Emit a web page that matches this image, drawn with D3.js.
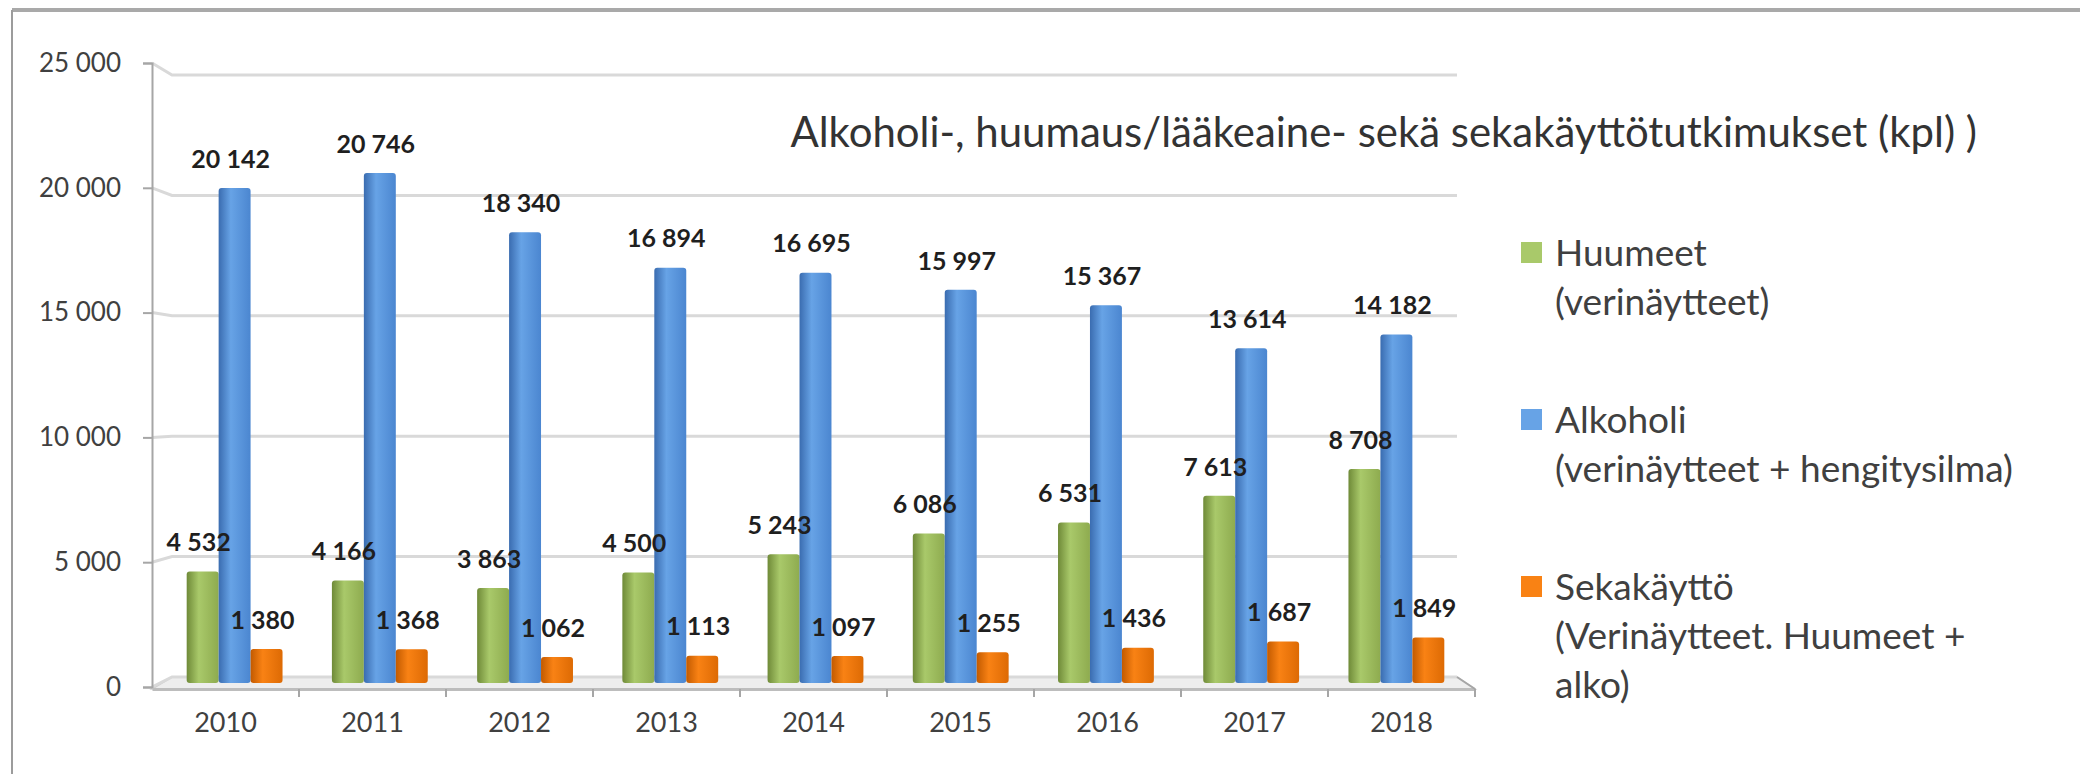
<!DOCTYPE html>
<html>
<head>
<meta charset="utf-8">
<script src="https://cdn.jsdelivr.net/npm/d3@7"></script>
<style>
    html, body { margin: 0; padding: 0; background: #fff; }
    svg { display: block; font-family: Lato, "Open Sans", sans-serif; }
</style>
</head>
<body>
<div id="main"></div>
<script>
"use strict";

// chart data
const years = ["2010", "2011", "2012", "2013", "2014", "2015", "2016", "2017", "2018"];
const seriesNames = ["Huumeet", "Alkoholi", "Sekakäyttö"];
const huumeet = [4532, 4166, 3863, 4500, 5243, 6086, 6531, 7613, 8708];
const alkoholi = [20142, 20746, 18340, 16894, 16695, 15997, 15367, 13614, 14182];
const sekakaytto = [1380, 1368, 1062, 1113, 1097, 1255, 1436, 1687, 1849];
const yTicks = [0, 5000, 10000, 15000, 20000, 25000];
const legendLines = [
    ["Huumeet", "(verinäytteet)"],
    ["Alkoholi", "(verinäytteet + hengitysilma)"],
    ["Sekakäyttö", "(Verinäytteet. Huumeet +", "alko)"]
];
const title = "Alkoholi-, huumaus/lääkeaine- sekä sekakäyttötutkimukset (kpl) )";

// colours of the three series: dark edge, light middle, mid right edge
const shades = [
    ["#6f8a38", "#a9c96a", "#8eab4f"],
    ["#3a6cb0", "#67a3e6", "#4b86d0"],
    ["#c25a00", "#f98214", "#dd6a04"]
];

const width = 2080, height = 774;

function draw() {
    const svg = d3.select("#main").append("svg")
        .attr("width", width)
        .attr("height", height);

    const fi = d3.formatLocale({ decimal: ",", thousands: " ", grouping: [3], currency: ["", ""] }).format(",d");

    // gradients for the "cylinder" look
    const defs = svg.append("defs");
    shades.forEach((s, i) => {
        const g = defs.append("linearGradient").attr("id", "grad" + i)
            .attr("x1", "0%").attr("x2", "100%").attr("y1", "0%").attr("y2", "0%");
        g.append("stop").attr("offset", "0%").attr("stop-color", s[0]);
        g.append("stop").attr("offset", "38%").attr("stop-color", s[1]);
        g.append("stop").attr("offset", "100%").attr("stop-color", s[2]);
    });

    // frame (only top and left edge are visible in the picture)
    svg.append("line").attr("x1", 12).attr("x2", width).attr("y1", 10).attr("y2", 10)
        .attr("stroke", "#a9a9a9").attr("stroke-width", 4);
    svg.append("line").attr("x1", 12).attr("x2", 12).attr("y1", 10).attr("y2", height)
        .attr("stroke", "#9c9c9c").attr("stroke-width", 2);

    // three y scales: front axis, back wall, and bars in the middle (3d perspective)
    const yFront = d3.scaleLinear().domain([0, 25000]).range([687, 63]);
    const yBack = d3.scaleLinear().domain([0, 25000]).range([677, 75]);
    const y = d3.scaleLinear().domain([0, 25000]).range([683, 68.5]);

    const x0 = 152, x1 = 1475, backL = 172, backR = 1457;
    const xAxis = d3.scaleBand().domain(years).range([x0, x1]);
    const xGroup = d3.scaleBand().domain(years).range([162, 1469]).paddingInner(0.34).paddingOuter(0.17);
    const xSeries = d3.scaleBand().domain(seriesNames).range([0, xGroup.bandwidth()]);

    // floor
    svg.append("path")
        .attr("d", `M${x0},${yFront(0) + 2}L${x1},${yFront(0) + 2}L${backR},${yBack(0)}L${backL},${yBack(0)}Z`)
        .attr("fill", "#eeeeee").attr("stroke", "#d0d0d0").attr("stroke-width", 1.5);

    // gridlines on the back wall, with a short slanted piece from the axis
    svg.append("g").selectAll("path")
        .data(yTicks)
        .join("path")
        .attr("d", d => `M${x0},${yFront(d)}L${backL},${yBack(d)}L${backR},${yBack(d)}`)
        .attr("fill", "none")
        .attr("stroke", "#d9d9d9")
        .attr("stroke-width", 3);

    // y axis
    const ya = svg.append("g")
        .attr("transform", `translate(${x0},0)`)
        .call(d3.axisLeft(yFront).tickValues(yTicks).tickFormat(fi).tickSize(9).tickPadding(22));
    ya.select(".domain").attr("stroke", "#a6a6a6").attr("stroke-width", 2);
    ya.selectAll(".tick line").attr("stroke", "#a6a6a6").attr("stroke-width", 2);
    ya.selectAll("text").attr("font-family", "Lato, sans-serif").attr("font-size", 26).attr("fill", "#404040");

    // x axis, labels at the middle, tick marks between the years
    const xa = svg.append("g")
        .attr("transform", `translate(0,${yFront(0) + 2})`)
        .call(d3.axisBottom(xAxis).tickSize(0).tickPadding(24));
    xa.select(".domain").attr("stroke", "#bdbdbd").attr("stroke-width", 3);
    xa.selectAll("text").attr("font-family", "Lato, sans-serif").attr("font-size", 27).attr("fill", "#404040");
    svg.append("g").selectAll("line")
        .data(years)
        .join("line")
        .attr("x1", d => xAxis(d) + xAxis.bandwidth())
        .attr("x2", d => xAxis(d) + xAxis.bandwidth())
        .attr("y1", yFront(0) + 2)
        .attr("y2", yFront(0) + 10)
        .attr("stroke", "#a6a6a6").attr("stroke-width", 2);
    // right edge of the floor
    svg.append("path")
        .attr("d", `M${backR},${yBack(0)}L${x1},${yFront(0) + 2}`)
        .attr("stroke", "#a6a6a6").attr("stroke-width", 2).attr("fill", "none");

    const table = [huumeet, alkoholi, sekakaytto].map((vals, si) =>
        vals.map((v, i) => ({ series: seriesNames[si], si, year: years[i], value: v })));

    // bars
    svg.append("g").selectAll("g")
        .data(table)
        .join("g")
        .attr("fill", (d, i) => `url(#grad${i})`)
        .selectAll("rect")
        .data(d => d)
        .join("rect")
        .attr("x", d => xGroup(d.year) + xSeries(d.series))
        .attr("width", xSeries.bandwidth())
        .attr("y", d => y(d.value))
        .attr("height", d => y(0) - y(d.value))
        .attr("rx", 3);

    // data labels
    svg.append("g").selectAll("text")
        .data(table.flat())
        .join("text")
        .attr("x", d => xGroup(d.year) + xSeries(d.series) + xSeries.bandwidth() / 2 - 4)
        .attr("y", d => y(d.value) - 29)
        .attr("dy", "0.35em")
        .attr("text-anchor", "middle")
        .attr("font-family", "Lato, sans-serif")
        .attr("font-weight", "bold")
        .attr("font-size", 25)
        .attr("fill", "#1f1f1f")
        .text(d => fi(d.value));

    // title, sized to the width it has in the picture
    const t = svg.append("text")
        .attr("x", 1977)
        .attr("y", 132)
        .attr("dy", "0.35em")
        .attr("text-anchor", "end")
        .attr("font-size", 100)
        .attr("fill", "#333")
        .text(title);
    t.attr("font-size", 100 * 1187 / t.node().getComputedTextLength());

    // legend
    const legend = svg.append("g").attr("transform", "translate(1521,253)");
    const items = legend.selectAll("g")
        .data(legendLines)
        .join("g")
        .attr("transform", (d, i) => `translate(0,${i * 167})`);
    items.append("rect")
        .attr("x", 0).attr("y", -11)
        .attr("width", 21).attr("height", 21)
        .attr("fill", (d, i) => shades[i][1]);
    const txt = items.append("text")
        .attr("fill", "#404040")
        .attr("font-size", 100);
    txt.selectAll("tspan")
        .data(d => d)
        .join("tspan")
        .attr("x", 34)
        .attr("y", (d, i) => i * 49)
        .attr("dy", "0.35em")
        .text(d => d);
    const longest = d3.max(txt.nodes(), n => n.getBBox().width);
    txt.attr("font-size", 100 * 458 / longest);
}

draw();
</script>
</body>
</html>
